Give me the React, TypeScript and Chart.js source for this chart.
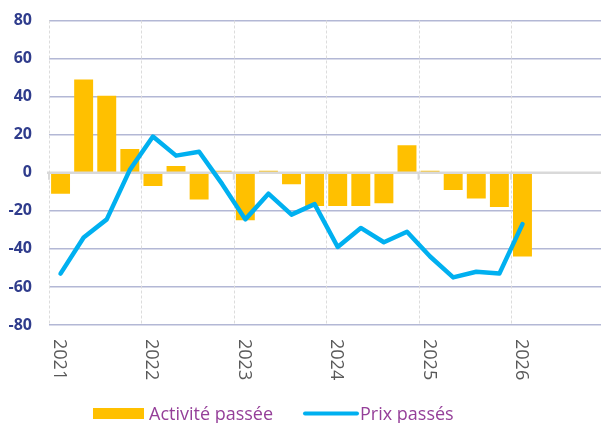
import React, { useEffect, useRef } from 'react';
import { Chart, registerables } from 'chart.js';

Chart.register(...registerables);

const years = ['2021', '2022', '2023', '2024', '2025', '2026'];
const seriesNames = ['Activité passée', 'Prix passés'];
// Quarterly values, 2021 Q1 -> 2026 Q1
const activite = [-11, 49, 40.5, 12.5, -7, 3.5, -14, 1, -25, 1, -6, -17.5, -17.5, -17.5, -16, 14.5, 1, -9, -13.5, -18, -44];
const prix = [-53, -34, -24.5, 1.5, 19, 9, 11, -6, -24.5, -11, -22, -16.5, -39, -29, -36.5, -31, -44, -55, -52, -53, -27];

const FONT = '"Open Sans", "Liberation Sans", Arial, sans-serif';
const BAR_COLOR = '#ffc000';
const LINE_COLOR = '#00b0f0';
const LEGEND_COLOR = '#953f99';

export default function App() {
  const ref = useRef<HTMLCanvasElement>(null);

  useEffect(() => {
    const canvas = ref.current;
    if (!canvas) return;

    const overlay = {
      id: 'overlay',
      beforeDatasetsDraw(chart: any) {
        const { ctx, chartArea } = chart;
        const xs = chart.scales.x;
        ctx.save();
        ctx.strokeStyle = '#dcdcdc';
        ctx.lineWidth = 1;
        ctx.setLineDash([3, 2]);
        for (let k = 0; k < years.length; k++) {
          const x = Math.round(xs.getPixelForValue(k * 4)) + 0.5;
          ctx.beginPath();
          ctx.moveTo(x, chartArea.top);
          ctx.lineTo(x, chartArea.bottom);
          ctx.stroke();
        }
        ctx.restore();
      },
      afterDatasetDraw(chart: any, args: any) {
        if (args.index !== 0) return;
        const { ctx, chartArea } = chart;
        const xs = chart.scales.x;
        const y0 = chart.scales.y.getPixelForValue(0);
        ctx.save();
        ctx.strokeStyle = '#d9d9d9';
        ctx.lineWidth = 2.5;
        ctx.beginPath();
        ctx.moveTo(chartArea.left - 2, y0);
        ctx.lineTo(chartArea.right, y0);
        ctx.stroke();
        ctx.lineWidth = 2;
        for (let k = 0; k < years.length; k++) {
          const x = xs.getPixelForValue(k * 4);
          ctx.beginPath();
          ctx.moveTo(x, y0);
          ctx.lineTo(x, y0 + 7);
          ctx.stroke();
        }
        ctx.restore();
      },
      afterDraw(chart: any) {
        const { ctx } = chart;
        const xs = chart.scales.x;
        ctx.save();
        // rotated year labels
        ctx.fillStyle = '#595959';
        ctx.font = `18px ${FONT}`;
        ctx.textAlign = 'left';
        ctx.textBaseline = 'alphabetic';
        for (let k = 0; k < years.length; k++) {
          const x = xs.getPixelForValue(k * 4 + 0.5);
          ctx.save();
          ctx.translate(x - 6.5, 339);
          ctx.rotate(Math.PI / 2);
          ctx.fillText(years[k], 0, 0);
          ctx.restore();
        }
        // legend
        ctx.fillStyle = BAR_COLOR;
        ctx.fillRect(93, 408, 51, 11);
        ctx.strokeStyle = LINE_COLOR;
        ctx.lineWidth = 4;
        ctx.lineCap = 'round';
        ctx.beginPath();
        ctx.moveTo(305, 413.5);
        ctx.lineTo(357, 413.5);
        ctx.stroke();
        ctx.fillStyle = LEGEND_COLOR;
        ctx.font = `18px ${FONT}`;
        ctx.fillText(seriesNames[0], 149, 419.5);
        ctx.fillText(seriesNames[1], 360, 419.5);
        ctx.restore();
      },
    };

    const chart = new Chart(canvas, {
      type: 'bar',
      data: {
        datasets: [
          {
            type: 'bar',
            label: seriesNames[0],
            data: activite.map((v, i) => ({ x: i + 0.5, y: v })),
            backgroundColor: BAR_COLOR,
            borderWidth: 0,
            barPercentage: 0.82,
            categoryPercentage: 1,
            order: 2,
          },
          {
            type: 'line',
            label: seriesNames[1],
            data: prix.map((v, i) => ({ x: i + 0.5, y: v })),
            borderColor: LINE_COLOR,
            backgroundColor: LINE_COLOR,
            borderWidth: 4.5,
            pointRadius: 0,
            tension: 0,
            borderJoinStyle: 'round',
            borderCapStyle: 'round',
            order: 1,
          },
        ] as any,
      },
      options: {
        animation: false,
        responsive: false,
        maintainAspectRatio: false,
        layout: { padding: { top: 20.5, right: 0, bottom: 98, left: 0 } },
        plugins: { legend: { display: false }, tooltip: { enabled: false } },
        scales: {
          x: {
            type: 'linear',
            min: 0,
            max: 23.9,
            offset: false,
            grid: { display: false },
            border: { display: false },
            ticks: { display: false },
            afterFit: (s: any) => { s.height = 0; s.paddingLeft = 0; s.paddingRight = 0; },
          },
          y: {
            min: -80,
            max: 80,
            ticks: {
              stepSize: 20,
              padding: 17,
              color: '#2f3c8c',
              font: { family: FONT, size: 16, weight: 'bold' },
            },
            grid: {
              color: (c: any) => (c.tick && c.tick.value === 0 ? 'rgba(0,0,0,0)' : '#b3b8d5'),
              lineWidth: 1.5,
              drawTicks: false,
            },
            border: { display: false },
            afterFit: (s: any) => { s.width = 49; s.paddingTop = 0; s.paddingBottom = 0; },
          },
        },
      } as any,
      plugins: [overlay],
    });

    return () => chart.destroy();
  }, []);

  return (
    <div style={{ position: 'fixed', left: 0, top: 0, width: 601, height: 423, background: '#fff' }}>
      <canvas ref={ref} width={601} height={423} style={{ display: 'block', width: 601, height: 423 }} />
    </div>
  );
}
